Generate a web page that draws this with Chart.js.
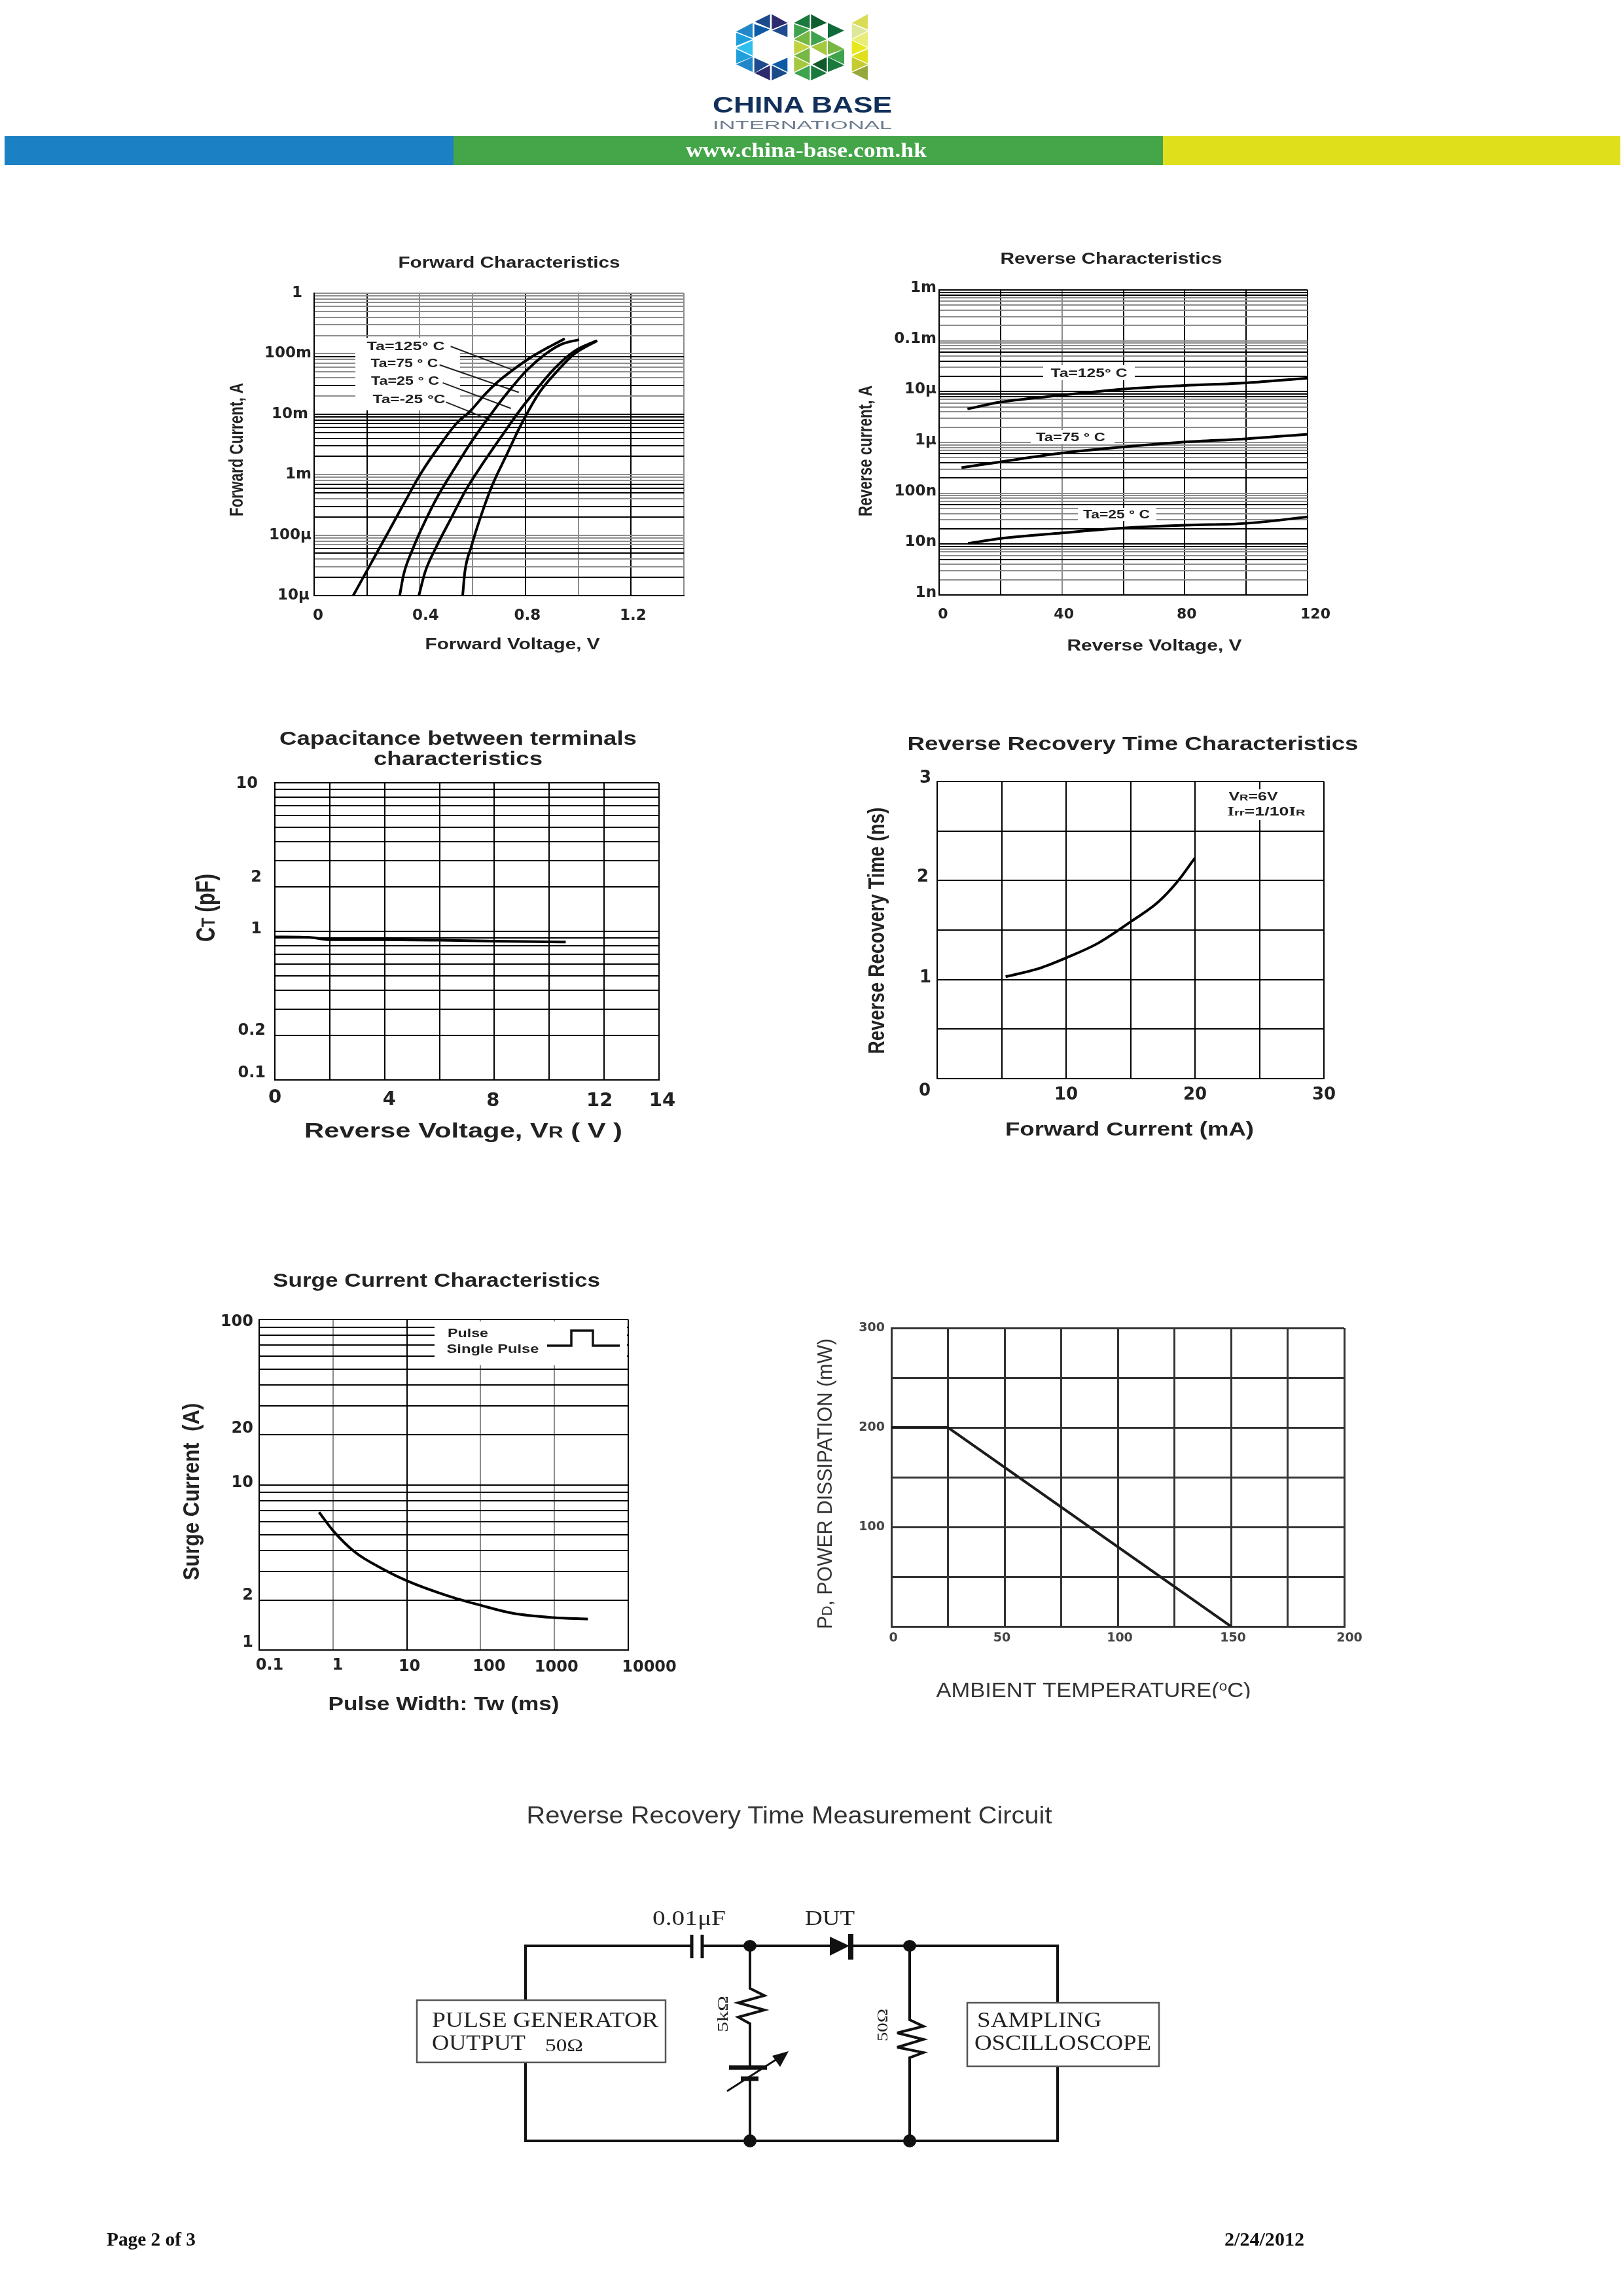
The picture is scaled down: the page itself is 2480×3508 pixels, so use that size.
<!DOCTYPE html>
<html>
<head>
<meta charset="utf-8">
<title>Page 2 of 3</title>
<script src="https://cdn.jsdelivr.net/npm/chart.js@4/dist/chart.umd.min.js"></script>
<style>
  html, body { margin: 0; background: #fff; }
  #page { position: relative; width: 2480px; height: 3508px; overflow: hidden; background: #fff; }
  #page canvas { position: absolute; filter: blur(0.7px); }
  #art { position: absolute; left: 0; top: 0; filter: blur(0.6px); }
</style>
</head>
<body>
<div id="page">
<svg id="art" width="2480" height="3508" viewBox="0 0 2480 3508" xmlns="http://www.w3.org/2000/svg">
  <g id="logo" transform="translate(1000,0) scale(0.3333,0.3333)"></g>
  <text x="1226" y="172" font-family="Liberation Sans" font-weight="bold" font-size="35" fill="#12305a" text-anchor="middle" textLength="274" lengthAdjust="spacingAndGlyphs">CHINA BASE</text>
  <text x="1226" y="197" font-family="Liberation Sans" font-size="17" fill="#6b7a8c" text-anchor="middle" textLength="274" lengthAdjust="spacingAndGlyphs">INTERNATIONAL</text>
  <rect x="7" y="208" width="686" height="44" fill="#1b80c4"/>
  <rect x="693" y="208" width="1084" height="44" fill="#44a549"/>
  <rect x="1777" y="208" width="699" height="44" fill="#dfe01b"/>
  <text x="1232" y="240" font-family="Liberation Serif" font-weight="bold" font-size="32" fill="#fff" text-anchor="middle" textLength="368" lengthAdjust="spacingAndGlyphs">www.china-base.com.hk</text>

  <text x="1206" y="2786" font-family="Liberation Sans" font-size="36" fill="#333" text-anchor="middle" textLength="803" lengthAdjust="spacingAndGlyphs">Reverse Recovery Time Measurement Circuit</text>

  <g fill="none" stroke="#111" stroke-width="4">
    <path d="M803 3056V2973H1057M1073 2973H1268M1300 2973H1616V3060M803 3151V3271H1616V3157"/>
    <path d="M1146 2973V3038L1168 3049L1128 3060L1168 3071L1128 3082L1146 3092V3159M1146 3176V3271"/>
    <path d="M1390 2973V3086L1411 3096L1371 3106L1411 3116L1371 3128L1411 3136L1390 3144V3271"/>
    <path d="M1057 2956V2992M1073 2956V2992" stroke-width="5"/>
    <path d="M1300 2955V2994" stroke-width="8"/>
    <path d="M1114 3159H1172M1132 3176H1159" stroke-width="7"/>
    <path d="M1111 3195L1198 3139" stroke-width="3"/>
  </g>
  <path d="M1268 2959V2988L1298 2973Z" fill="#111"/>
  <path d="M1205 3134L1180 3141L1192 3158Z" fill="#111"/>
  <g fill="#111">
    <ellipse cx="1146" cy="2973" rx="10" ry="9"/><ellipse cx="1390" cy="2973" rx="10" ry="9"/>
    <ellipse cx="1146" cy="3271" rx="10" ry="10"/><ellipse cx="1390" cy="3271" rx="10" ry="10"/>
  </g>
  <rect x="637" y="3056" width="380" height="95" fill="#fff" stroke="#555" stroke-width="2.5"/>
  <rect x="1478" y="3060" width="293" height="97" fill="#fff" stroke="#555" stroke-width="2.5"/>
  <g font-family="Liberation Serif" font-size="34" fill="#222">
    <text x="1053" y="2941" font-size="32" text-anchor="middle" textLength="112" lengthAdjust="spacingAndGlyphs">0.01μF</text>
    <text x="1268" y="2941" font-size="32" text-anchor="middle" textLength="76" lengthAdjust="spacingAndGlyphs">DUT</text>
    <text x="660" y="3097" textLength="346" lengthAdjust="spacingAndGlyphs">PULSE GENERATOR</text>
    <text x="660" y="3132" textLength="143" lengthAdjust="spacingAndGlyphs">OUTPUT</text>
    <text x="833" y="3134" font-size="28" textLength="58" lengthAdjust="spacingAndGlyphs">50Ω</text>
    <text x="1493" y="3097" textLength="190" lengthAdjust="spacingAndGlyphs">SAMPLING</text>
    <text x="1489" y="3132" textLength="270" lengthAdjust="spacingAndGlyphs">OSCILLOSCOPE</text>
    <text transform="translate(1112,3077) rotate(-90)" font-size="24" text-anchor="middle" textLength="56" lengthAdjust="spacingAndGlyphs">5kΩ</text>
    <text transform="translate(1356,3094) rotate(-90)" font-size="24" text-anchor="middle" textLength="50" lengthAdjust="spacingAndGlyphs">50Ω</text>
  </g>

  <text x="163" y="3431" font-family="Liberation Serif" font-weight="bold" font-size="30" fill="#111" textLength="136" lengthAdjust="spacingAndGlyphs">Page 2 of 3</text>
  <text x="1871" y="3431" font-family="Liberation Serif" font-weight="bold" font-size="30" fill="#111" textLength="122" lengthAdjust="spacingAndGlyphs">2/24/2012</text>
</svg>
</div>
<script>
// Forward characteristics
const fwdV125 = [0.148, 0.2007, 0.276, 0.336, 0.400, 0.481, 0.541, 0.589, 0.649, 0.697, 0.757, 0.817, 0.889, 0.949];
const fwdI125 = [1e-5, 2.62e-5, 1.03e-4, 3.09e-4, 9.8e-4, 3.28e-3, 7.2e-3, 0.011, 0.0217, 0.0348, 0.0558, 0.0849, 0.129, 0.177];
const fwdV75 = [0.324, 0.339, 0.3725, 0.409, 0.469, 0.529, 0.595, 0.661, 0.733, 0.805, 0.877, 0.937, 1.003];
const fwdI75 = [1e-5, 2.24e-5, 5.77e-5, 1.34e-4, 4.47e-4, 1.21e-3, 3.46e-3, 8.9e-3, 0.0229, 0.053, 0.0993, 0.1435, 0.171];
const fwdV25 = [0.3966, 0.4206, 0.4627, 0.5167, 0.5768, 0.6369, 0.709, 0.7751, 0.8412, 0.9133, 0.9854, 1.0695];
const fwdI25 = [1e-5, 2.49e-5, 6.41e-5, 1.83e-4, 5.8e-4, 1.49e-3, 4.27e-3, 0.011, 0.0254, 0.0588, 0.11, 0.164];
const fwdVm25 = [0.5624, 0.5708, 0.5948, 0.6309, 0.673, 0.727, 0.7871, 0.8532, 0.9133, 0.9854, 1.0719];
const fwdIm25 = [1e-5, 2.49e-5, 6.41e-5, 2.03e-4, 6.46e-4, 2.05e-3, 7.2e-3, 0.0229, 0.0476, 0.0993, 0.164];
const fwdLeaders = [
  [[0.517, 0.132], [0.757, 0.053]],
  [[0.475, 0.0653], [0.775, 0.0229]],
  [[0.487, 0.033], [0.745, 0.01245]],
  [[0.499, 0.01585], [0.673, 0.00783]]
];
const fwdXTicks = [0, 0.2, 0.4, 0.6, 0.8, 1.0, 1.2, 1.4];
const fwdXLabels = ['0', '', '0.4', '', '0.8', '', '1.2', ''];
const fwdXDark = [0.2, 0.8, 1.2];
const fwdYNamed = [1, 0.1, 0.01, 0.001, 1e-4, 1e-5];
const fwdYNames = ['1', '100m', '10m', '1m', '100μ', '10μ'];
const fwdYDark = [0.09, 0.03, 0.01, 0.009, 0.008, 0.007, 0.006, 0.005, 0.004, 0.003, 0.002, 7e-4, 6e-4, 5e-4, 3e-4, 2e-4, 6e-5, 5e-5, 2e-5];

// Reverse characteristics
const revV125 = [9.23, 20, 40, 60, 80, 100, 120];
const revI125 = [4.56e-6, 6.22e-6, 8.5e-6, 1.12e-5, 1.32e-5, 1.49e-5, 1.84e-5];
const revV75 = [7.3, 20, 40, 60, 80, 100, 120];
const revI75 = [3.19e-7, 4.15e-7, 6.18e-7, 8.15e-7, 1.02e-6, 1.18e-6, 1.45e-6];
const revV25 = [9.4, 20, 40, 60, 80, 100, 120];
const revI25 = [1.03e-8, 1.29e-8, 1.66e-8, 2.07e-8, 2.35e-8, 2.56e-8, 3.42e-8];
const revXTicks = [0, 20, 40, 60, 80, 100, 120];
const revXLabels = ['0', '', '40', '', '80', '', '120'];
const revXDark = [20, 60, 80, 100, 120];
const revYNamed = [1e-3, 1e-4, 1e-5, 1e-6, 1e-7, 1e-8, 1e-9];
const revYNames = ['1m', '0.1m', '10μ', '1μ', '100n', '10n', '1n'];
const revYDark = [1e-3, 9e-4, 8e-4, 6e-5, 4e-5, 2e-5, 1e-5, 9e-6, 8e-6, 6e-7, 4e-7, 2e-7, 6e-8, 2e-8, 1e-8, 9e-9, 5e-9];

// Capacitance
const capV = [0, 1.28, 2, 4, 6, 8, 10, 10.6];
const capC = [0.918, 0.91, 0.878, 0.878, 0.871, 0.859, 0.851, 0.848];
const capXTicks = [0, 2, 4, 6, 8, 10, 12, 14];
const capXLabels = ['0', '', '4', '', '8', '', '12', '14'];
const capYNamed = [10, 2, 1, 0.2, 0.1];
const capYNames = ['10', '2', '1', '0.2', '0.1'];

// Reverse recovery time
const rrIf = [5.31, 7.82, 10.07, 12.48, 14.99, 17.14, 18.69, 19.98];
const rrTime = [1.029, 1.109, 1.223, 1.367, 1.582, 1.782, 1.997, 2.226];
const rrXTicks = [0, 5, 10, 15, 20, 25, 30];
const rrXLabels = ['', '', '10', '', '20', '', '30'];
const rrYTicks = [0, 0.5, 1, 1.5, 2, 2.5, 3];
const rrYLabels = ['0', '', '1', '', '2', '', '3'];

// Surge current
const surgeTw = [0.648, 1.015, 1.99, 4.68, 10.1, 35.6, 98, 270, 975, 2838];
const surgeA = [6.82, 5.24, 3.91, 3.10, 2.62, 2.13, 1.87, 1.67, 1.57, 1.54];
const surgeXTicks = [0.1, 1, 10, 100, 1000, 10000];
const surgeXLabels = ['0.1', '1', '10', '100', '1000', '10000'];
const surgeXDark = [0.1, 10, 10000];
const surgeYNamed = [100, 20, 10, 2, 1];
const surgeYNames = ['100', '20', '10', '2', '1'];

// Power derating
const pdTemp = [0, 25, 150];
const pdPower = [200, 200, 0];
const pdXTicks = [0, 25, 50, 75, 100, 125, 150, 175, 200];
const pdXLabels = ['0', '', '50', '', '100', '', '150', '', '200'];
const pdYTicks = [0, 50, 100, 150, 200, 250, 300];
const pdYLabels = ['', '', '100', '', '200', '', '300'];

// logo triangles, in the lattice of the mark
const logoTris = [
  ['#1b4a8a', '460,100 530,65 530,130'], ['#2d2a6e', '538,65 610,105 538,135'],
  ['#0d5aa7', '458,110 530,135 458,170'], ['#1f4a8f', '540,140 610,110 610,170'],
  ['#2087c9', '375,145 450,105 450,175'], ['#1f9fdc', '375,150 450,180 375,210'],
  ['#2fc0ee', '375,220 450,185 450,255'], ['#1f9fdc', '375,225 450,260 375,290'],
  ['#2087c9', '375,295 450,262 450,330'], ['#1e4a90', '458,265 525,295 458,335'],
  ['#0d5aa7', '540,295 610,265 610,330'], ['#2d2a6e', '460,335 530,300 530,368'],
  ['#1b4a8a', '538,300 610,335 538,368'],
  ['#1a7a3e', '640,105 712,65 712,130'], ['#0f5f30', '718,65 790,105 718,135'],
  ['#3fa34d', '640,110 712,135 640,175'], ['#0f6b3a', '795,105 870,140 795,175'],
  ['#76b843', '640,180 712,140 712,210'], ['#3fa34d', '718,140 790,180 718,210'],
  ['#c1d440', '640,185 712,215 640,250'], ['#a4c83e', '718,215 790,185 790,255'],
  ['#76b843', '795,185 870,225 795,250'], ['#76b843', '640,255 712,220 712,290'],
  ['#3fa34d', '795,260 870,225 870,295'], ['#a4c83e', '640,260 712,295 640,330'],
  ['#0f5a28', '725,295 790,262 790,330'], ['#1a7a3e', '795,262 870,300 795,330'],
  ['#3fa34d', '640,335 712,300 712,368'], ['#1a7a3e', '718,300 790,335 718,368'],
  ['#d9dc55', '905,105 978,65 978,135'], ['#dfe79a', '905,110 978,140 905,178'],
  ['#e9ec75', '905,182 978,145 978,215'], ['#e8e81e', '905,185 978,220 905,250'],
  ['#dfe01b', '905,258 978,225 978,290'], ['#c5cb30', '905,262 978,295 905,328'],
  ['#96a83a', '905,332 978,300 978,368']
];
const logo = document.getElementById('logo');
logoTris.forEach(t => {
  const p = document.createElementNS('http://www.w3.org/2000/svg', 'polygon');
  p.setAttribute('fill', t[0]);
  p.setAttribute('points', t[1]);
  logo.appendChild(p);
});

const page = document.getElementById('page');
const MARGIN = { L: 190, R: 110, T: 110, B: 110 };
const GRAY = '#8c8c8c';

function near(a, b) { return a === b || Math.abs(a / b - 1) < 1e-6; }

function decadeTicks(lo, hi) {
  const out = [];
  for (let e = lo; e < hi; e++) {
    for (let m = 1; m < 10; m++) out.push(Number(m + 'e' + e));
  }
  out.push(Number('1e' + hi));
  return out;
}

function namedLabels(ticks, named, names) {
  return ticks.map(t => {
    const i = named.findIndex(v => near(v, t));
    return i < 0 ? '' : names[i];
  });
}

function zip(xs, ys) { return xs.map((x, i) => ({ x: x, y: ys[i] })); }

function axisCfg(a, isX) {
  const shade = c => {
    if (!a.dark) return a.color || '#000';
    return a.dark.some(v => near(v, c.tick.value)) ? '#000' : GRAY;
  };
  return {
    type: a.log ? 'logarithmic' : 'linear',
    position: isX ? 'bottom' : 'left',
    min: a.ticks[0],
    max: a.ticks[a.ticks.length - 1],
    grid: { color: shade, lineWidth: a.lw || 2, drawTicks: false },
    border: { color: a.color || '#000', width: a.lw || 2 },
    ticks: {
      autoSkip: false,
      maxRotation: 0,
      minRotation: 0,
      padding: a.pad,
      labelOffset: a.offset || 0,
      color: a.textColor || '#222',
      font: { family: 'DejaVu Sans', weight: 'bold', size: a.size },
      callback: (v, i) => a.labels[i]
    },
    afterBuildTicks: s => { s.ticks = a.ticks.map(value => ({ value })); },
    afterFit: s => {
      if (isX) s.height = MARGIN.B; else s.width = MARGIN.L;
    }
  };
}

// masks, pixel paths and captions are given in page coordinates
function decorPlugin(spec, ox, oy) {
  return {
    id: 'decor',
    beforeDraw(chart) {
      if (chart.$nudged || !spec.nudge) return;
      chart.$nudged = true;
      ['x', 'y'].forEach(k => {
        const map = spec.nudge[k];
        if (!map) return;
        chart.scales[k].getLabelItems().forEach(it => {
          const d = map[it.label];
          if (d) {
            it.options.translation[0] += d[0];
            it.options.translation[1] += d[1];
          }
        });
      });
    },
    beforeDatasetsDraw(chart) {
      const ctx = chart.ctx;
      ctx.save();
      ctx.fillStyle = '#fff';
      (spec.masks || []).forEach(m => ctx.fillRect(m[0] - ox, m[1] - oy, m[2] - m[0], m[3] - m[1]));
      ctx.restore();
    },
    afterDatasetsDraw(chart) {
      const ctx = chart.ctx;
      (spec.paths || []).forEach(p => {
        ctx.save();
        ctx.strokeStyle = '#111';
        ctx.lineWidth = p.lw;
        ctx.beginPath();
        p.pts.forEach((q, i) => (i ? ctx.lineTo(q[0] - ox, q[1] - oy) : ctx.moveTo(q[0] - ox, q[1] - oy)));
        ctx.stroke();
        ctx.restore();
      });
      (spec.texts || []).forEach(t => drawText(ctx, t, ox, oy));
    }
  };
}

function drawText(ctx, t, ox, oy) {
  const runs = typeof t.t === 'string' ? [[t.t, 1, 0]] : t.t;
  const fontFor = r => (t.bold === false ? '' : 'bold ') + (t.size * r[1]) + 'px "' + (r[3] || 'Liberation Sans') + '"';
  ctx.save();
  ctx.translate(t.x - ox, t.y - oy);
  if (t.rot) ctx.rotate(t.rot * Math.PI / 180);
  let total = 0;
  runs.forEach(r => { ctx.font = fontFor(r); total += ctx.measureText(r[0]).width; });
  ctx.scale(t.w ? t.w / total : 1, t.sy || 1);
  ctx.fillStyle = t.color || '#222';
  ctx.textBaseline = 'alphabetic';
  let x = -total / 2;
  runs.forEach(r => {
    ctx.font = fontFor(r);
    ctx.fillText(r[0], x, t.size * 0.36 - (r[2] || 0));
    x += ctx.measureText(r[0]).width;
  });
  ctx.restore();
}

function makeChart(spec) {
  const p = spec.plot;
  const left = p.l - MARGIN.L, top = p.t - MARGIN.T;
  const w = p.r - p.l + MARGIN.L + MARGIN.R, h = p.b - p.t + MARGIN.T + MARGIN.B;
  const cv = document.createElement('canvas');
  cv.width = w;
  cv.height = h;
  cv.style.left = left + 'px';
  cv.style.top = top + 'px';
  cv.style.width = w + 'px';
  cv.style.height = h + 'px';
  page.appendChild(cv);
  return new Chart(cv.getContext('2d'), {
    type: 'line',
    data: {
      datasets: spec.series.map(s => ({
        data: s.data,
        borderColor: s.color || '#000',
        borderWidth: s.lw || 4,
        pointRadius: 0,
        cubicInterpolationMode: s.straight ? 'default' : 'monotone',
        tension: 0,
        fill: false
      }))
    },
    options: {
      responsive: false,
      animation: false,
      devicePixelRatio: 1,
      layout: { autoPadding: false, padding: { left: 0, top: MARGIN.T, right: MARGIN.R, bottom: 0 } },
      plugins: { legend: { display: false }, title: { display: false }, tooltip: { enabled: false } },
      scales: { x: axisCfg(spec.x, true), y: axisCfg(spec.y, false) }
    },
    plugins: [decorPlugin(spec, left, top)]
  });
}

const fwdYTicks = decadeTicks(-5, 0);
makeChart({
  plot: { l: 480, t: 448, r: 1045, b: 910 },
  x: { ticks: fwdXTicks, labels: fwdXLabels, dark: fwdXDark, pad: 17, size: 23, offset: 3 },
  y: { log: true, ticks: fwdYTicks, labels: namedLabels(fwdYTicks, fwdYNamed, fwdYNames), dark: fwdYDark, pad: 4, size: 23 },
  series: [
    { data: zip(fwdV125, fwdI125) }, { data: zip(fwdV75, fwdI75) },
    { data: zip(fwdV25, fwdI25) }, { data: zip(fwdVm25, fwdIm25) }
  ].concat(fwdLeaders.map(l => ({ data: l.map(q => ({ x: q[0], y: q[1] })), lw: 2, straight: true, color: '#222' }))),
  nudge: { x: { '0': [3, 0], '0.4': [6, 0] }, y: { '1': [-14, 0], '10m': [-5, 0], '10μ': [-3, 0] } },
  masks: [[543, 516, 703, 627]],
  texts: [
    { t: 'Forward Characteristics', x: 778, y: 401, w: 339, size: 23 },
    { t: 'Forward Voltage, V', x: 783, y: 984, w: 267, size: 23 },
    { t: 'Forward Current, A', x: 360, y: 687, w: 204, size: 24, rot: -90, sy: 1.25 },
    { t: 'Ta=125° C', x: 620, y: 528, w: 119, size: 19 },
    { t: 'Ta=75 ° C', x: 618, y: 554, w: 103, size: 19 },
    { t: 'Ta=25 ° C', x: 619, y: 581, w: 104, size: 19 },
    { t: 'Ta=-25 °C', x: 625, y: 609, w: 111, size: 19 }
  ]
});

const revYTicks = decadeTicks(-9, -3);
makeChart({
  plot: { l: 1435, t: 443, r: 1998, b: 909 },
  x: { ticks: revXTicks, labels: revXLabels, dark: revXDark, pad: 17, size: 22, offset: 3 },
  y: { log: true, ticks: revYTicks, labels: namedLabels(revYTicks, revYNamed, revYNames), dark: revYDark, pad: 4, size: 23, offset: -3 },
  series: [{ data: zip(revV125, revI125) }, { data: zip(revV75, revI75) }, { data: zip(revV25, revI25) }],
  nudge: { x: { '0': [3, 0], '120': [9, 0] } },
  masks: [[1594, 558, 1734, 581], [1575, 657, 1703, 678], [1647, 776, 1767, 796]],
  texts: [
    { t: 'Reverse Characteristics', x: 1698, y: 395, w: 339, size: 23 },
    { t: 'Reverse Voltage, V', x: 1764, y: 986, w: 267, size: 23 },
    { t: 'Reverse current, A', x: 1321, y: 689, w: 200, size: 24, rot: -90, sy: 1.25 },
    { t: 'Ta=125° C', x: 1664, y: 569, w: 117, size: 19 },
    { t: 'Ta=75 ° C', x: 1636, y: 667, w: 106, size: 19 },
    { t: 'Ta=25 ° C', x: 1706, y: 785, w: 102, size: 19 }
  ]
});

const capYTicks = decadeTicks(-1, 1);
makeChart({
  plot: { l: 420, t: 1196, r: 1007, b: 1650 },
  x: { ticks: capXTicks, labels: capXLabels, pad: 10, size: 29 },
  y: { log: true, ticks: capYTicks, labels: namedLabels(capYTicks, capYNamed, capYNames), pad: 14, size: 24 },
  series: [{ data: zip(capV, capC) }],
  nudge: { x: { '4': [7, 3], '8': [-2, 5], '12': [-7, 5], '14': [5, 5] }, y: { '10': [-12, 2], '2': [-6, -14], '1': [-6, -3], '0.1': [0, -10], '0.2': [0, -7] } },
  texts: [
    { t: 'Capacitance between terminals', x: 700, y: 1128, w: 546, size: 29 },
    { t: 'characteristics', x: 700, y: 1159, w: 258, size: 29 },
    { t: [['Reverse Voltage, V', 1], ['R', 0.75], [' ( V )', 1]], x: 708, y: 1727, w: 486, size: 31 },
    { t: [['C', 1], ['T', 0.75], [' (pF)', 1]], x: 313, y: 1387, w: 104, size: 30, rot: -90, sy: 1.35 }
  ]
});

makeChart({
  plot: { l: 1432, t: 1194, r: 2023, b: 1648 },
  x: { ticks: rrXTicks, labels: rrXLabels, pad: 10, size: 26 },
  y: { ticks: rrYTicks, labels: rrYLabels, pad: 9, size: 26 },
  series: [{ data: zip(rrIf, rrTime) }],
  nudge: { y: { '3': [0, -5], '2': [-4, -5], '1': [0, -2], '0': [-1, 19] } },
  masks: [[1874, 1206, 1999, 1253]],
  texts: [
    { t: 'Reverse Recovery Time Characteristics', x: 1731, y: 1136, w: 689, size: 29 },
    { t: 'Forward Current (mA)', x: 1726, y: 1725, w: 380, size: 29 },
    { t: 'Reverse Recovery Time (ns)', x: 1338, y: 1422, w: 377, size: 31, rot: -90, sy: 1.15 },
    { t: [['V', 1], ['R', 0.75], ['=6V', 1]], x: 1915, y: 1217, w: 75, size: 18 },
    { t: [['I', 1, 0, 'Liberation Serif'], ['rr', 0.75], ['=1/10', 1], ['I', 1, 0, 'Liberation Serif'], ['R', 0.75]], x: 1935, y: 1240, w: 119, size: 18 }
  ]
});

const surgeYTicks = decadeTicks(0, 2);
makeChart({
  plot: { l: 396, t: 2016, r: 960, b: 2521 },
  x: { log: true, ticks: surgeXTicks, labels: surgeXLabels, dark: surgeXDark, pad: 9, size: 24 },
  y: { log: true, ticks: surgeYTicks, labels: namedLabels(surgeYTicks, surgeYNamed, surgeYNames), pad: 9, size: 24 },
  series: [{ data: zip(surgeTw, surgeA) }],
  nudge: { x: { '0.1': [16, 0], '1': [7, 0], '10': [4, 2], '100': [13, 2], '1000': [3, 3], '10000': [32, 3] }, y: { '100': [0, 4], '20': [0, -10], '2': [0, -7], '1': [0, -11], '10': [0, -3] } },
  masks: [[664, 2019, 958, 2086]],
  paths: [{ lw: 3.5, pts: [[836, 2056], [873, 2056], [873, 2033], [906, 2033], [906, 2056], [947, 2056]] }],
  texts: [
    { t: 'Surge Current Characteristics', x: 667, y: 1956, w: 500, size: 29 },
    { t: 'Pulse Width: Tw (ms)', x: 678, y: 2603, w: 353, size: 29 },
    { t: 'Surge Current  (A)', x: 291, y: 2279, w: 271, size: 31, rot: -90, sy: 1.15 },
    { t: 'Pulse', x: 715, y: 2037, w: 62, size: 18 },
    { t: 'Single Pulse', x: 753, y: 2061, w: 141, size: 18 }
  ]
});

makeChart({
  plot: { l: 1362, t: 2029, r: 2054, b: 2485 },
  x: { ticks: pdXTicks, labels: pdXLabels, color: '#333', lw: 3, pad: 7, size: 19, offset: 3, textColor: '#444' },
  y: { ticks: pdYTicks, labels: pdYLabels, color: '#333', lw: 3, pad: 10, size: 19, textColor: '#444' },
  series: [{ data: zip(pdTemp, pdPower), lw: 4, straight: true, color: '#1c1c1c' }],
  nudge: { x: { '50': [-7, 0], '200': [5, 0] } },
  texts: [
    { t: [['P', 1], ['D', 0.7], [', POWER DISSIPATION (mW)', 1]], x: 1260, y: 2267, w: 444, size: 31, rot: -90, bold: false, color: '#333' },
    { t: [['AMBIENT TEMPERATURE(', 1], ['o', 0.65, 10], ['C)', 1]], x: 1671, y: 2582, w: 481, size: 31, bold: false, color: '#333' }
  ]
});
</script>
</body>
</html>
